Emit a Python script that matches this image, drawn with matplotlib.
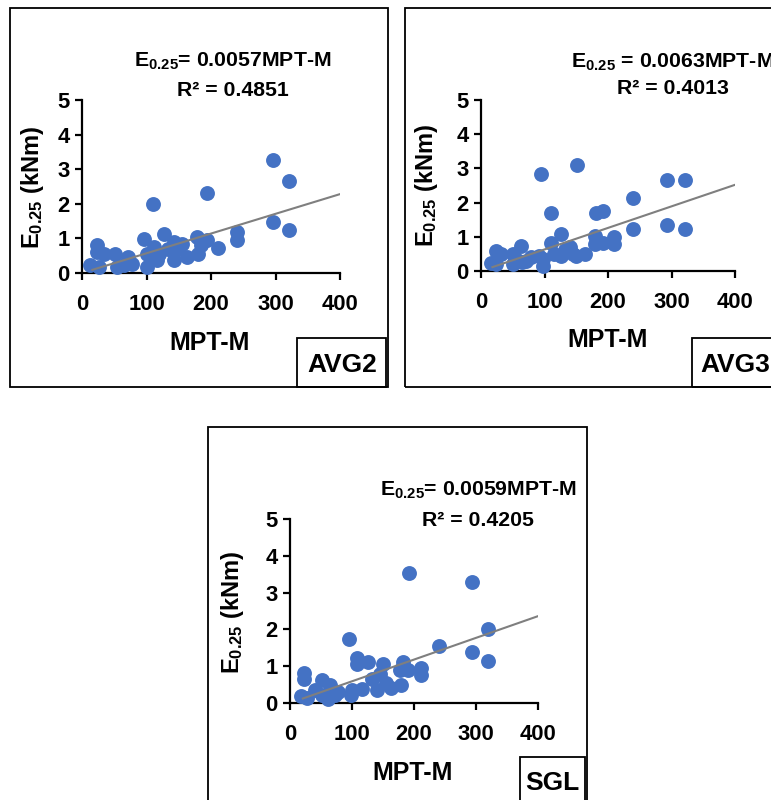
import numpy as np
import matplotlib
matplotlib.use("Agg")
import matplotlib.pyplot as plt
from matplotlib.patches import Rectangle

FONT = "Liberation Sans"
plt.rcParams["font.family"] = FONT
plt.rcParams["font.weight"] = "bold"
plt.rcParams["mathtext.fontset"] = "custom"
plt.rcParams["mathtext.rm"] = f"{FONT}:bold"
plt.rcParams["mathtext.it"] = f"{FONT}:bold"
plt.rcParams["mathtext.bf"] = f"{FONT}:bold"

C_PT = "#4472C4"
C_LINE = "#7f7f7f"

# ---- data ------------------------------------------------------------------
x_avg2 = [13, 23, 23, 26, 33.5, 51.6, 54, 64.5, 72, 77, 95.5, 100.6, 100.6, 110,
          116, 126.5, 134, 142, 142, 155, 162.6, 178, 180.6, 193.5, 193.5, 211.6,
          241, 241, 295.7, 295.7, 321.5, 321.5, 111, 120, 148, 185]
y_avg2 = [0.22, 0.80, 0.60, 0.17, 0.56, 0.56, 0.17, 0.22, 0.46, 0.27, 0.97, 0.56, 0.17, 1.99,
          0.37, 1.14, 0.70, 0.37, 0.90, 0.85, 0.46, 1.04, 0.56, 0.95, 2.30, 0.73,
          1.19, 0.95, 3.28, 1.48, 2.65, 1.25, 0.75, 0.55, 0.70, 0.80]

x_avg3 = [15, 24, 24, 32, 50, 50, 56, 63, 65, 71, 78, 92, 94.7, 97, 97, 110.5, 110.5,
          115, 126, 126, 133, 139.5, 145, 151, 150, 163, 179, 179, 181.6, 192, 192,
          209.5, 209.5, 240, 240, 293.7, 293.7, 321, 321]
y_avg3 = [0.22, 0.59, 0.20, 0.49, 0.49, 0.20, 0.32, 0.72, 0.25, 0.29, 0.40, 0.44, 2.84, 0.34,
          0.15, 1.69, 0.83, 0.50, 1.08, 0.44, 0.60, 0.69, 0.50, 3.10, 0.44, 0.49, 1.01,
          0.78, 1.70, 1.76, 0.83, 1.00, 0.78, 2.13, 1.24, 2.65, 1.34, 2.65, 1.23]

x_sgl = [17.7, 23, 23, 28, 40, 51, 51, 62, 64.5, 72.6, 78, 94.6, 98, 100, 108.6, 108.6,
         115.6, 126, 132, 141, 145, 150.5, 155, 163, 177, 178.5, 183, 191, 192.5, 211,
         211, 241, 293.5, 293.5, 320, 320]
y_sgl = [0.18, 0.82, 0.65, 0.14, 0.35, 0.62, 0.21, 0.12, 0.50, 0.21, 0.30, 1.75, 0.21, 0.35,
         1.21, 1.05, 0.39, 1.12, 0.66, 0.35, 0.80, 1.05, 0.55, 0.41, 0.89, 0.48, 1.12,
         0.89, 3.53, 0.94, 0.77, 1.56, 3.29, 1.38, 2.00, 1.15]

slopes = {"AVG2": 0.0057, "AVG3": 0.0063, "SGL": 0.0059}
slope_txt = {"AVG2": "0.0057", "AVG3": "0.0063", "SGL": "0.0059"}
r2 = {"AVG2": "0.4851", "AVG3": "0.4013", "SGL": "0.4205"}

W, H = 771, 800
fig = plt.figure(figsize=(W / 100, H / 100), dpi=100)


def fx(px):
    return px / W


def fy(py):
    return 1 - py / H


def panel(name, xs, ys, box, axpx, eqpos, eqsep, ylab, xlab, tag, tagbox):
    # outer frame
    bx0, by0, bx1, by1 = box
    fig.patches.append(Rectangle((fx(bx0), fy(by1)), fx(bx1 - bx0), (by1 - by0) / H,
                                 transform=fig.transFigure, fill=False, ec="black",
                                 lw=1.3, zorder=0))
    tx0, ty0, tx1, ty1 = tagbox
    fig.patches.append(Rectangle((fx(tx0), fy(ty1)), fx(tx1 - tx0), (ty1 - ty0) / H,
                                 transform=fig.transFigure, fill=False, ec="black",
                                 lw=1.3, zorder=0))
    x0, x1, y0, y5 = axpx
    ax = fig.add_axes([fx(x0), fy(y0), fx(x1 - x0), (y0 - y5) / H])
    ax.scatter(xs, ys, s=115, color=C_PT, zorder=3, clip_on=False, linewidths=0)
    k = slopes[name]
    xl = np.array([min(xs) + 3, 400])
    ax.plot(xl, k * xl, color=C_LINE, lw=1.5, zorder=4)
    ax.set_xlim(0, 400)
    ax.set_ylim(0, 5)
    ax.set_xticks([0, 100, 200, 300, 400])
    ax.set_yticks([0, 1, 2, 3, 4, 5])
    ax.spines[["top", "right"]].set_visible(False)
    for s in ("left", "bottom"):
        ax.spines[s].set_linewidth(1.6)
    ax.tick_params(axis="x", length=5, width=1.6, pad=10, labelsize=15.8)
    ax.tick_params(axis="y", length=5, width=1.6, pad=4, labelsize=15.8)
    for lab in ax.get_xticklabels() + ax.get_yticklabels():
        lab.set_fontweight("bold")
    ax.patch.set_alpha(0)

    ex, ey, eha, rx, ry = eqpos
    fig.text(fx(ex), fy(ey), "E$_{0.25}$" + eqsep + slope_txt[name] + "MPT-M",
             ha=eha, va="center", fontsize=15.3, fontweight="bold")
    fig.text(fx(rx), fy(ry), f"R² = {r2[name]}", ha="center", va="center",
             fontsize=15.3, fontweight="bold")
    fig.text(fx(ylab[0]), fy(ylab[1]), "E$_{0.25}$ (kNm)", rotation=90, ha="center",
             va="center", fontsize=17, fontweight="bold")
    fig.text(fx(xlab[0]), fy(xlab[1]), "MPT-M", ha="center", va="center",
             fontsize=18, fontweight="bold")
    fig.text(fx(tag[0]), fy(tag[1]), name, ha=tag[2], va="center",
             fontsize=19, fontweight="bold")


panel("AVG2", x_avg2, y_avg2, (10, 8, 388, 387), (82, 340, 273, 100),
      (233, 61, "center", 233, 90), "= ", (32, 187), (210, 343), (342, 365, "center"),
      (297, 338, 386, 387))
panel("AVG3", x_avg3, y_avg3, (405, 8, 800, 387), (481, 735, 271, 100),
      (571, 62, "left", 673, 88), " = ", (427, 185), (608, 340), (700, 365, "left"),
      (692, 338, 800, 387))
panel("SGL", x_sgl, y_sgl, (208, 427, 587, 830), (290, 538, 703, 519),
      (478, 490, "center", 478, 520), "= ", (232, 612), (413, 773), (552, 783, "center"),
      (520, 757, 585, 830))

fig.savefig("out.png", dpi=100)
